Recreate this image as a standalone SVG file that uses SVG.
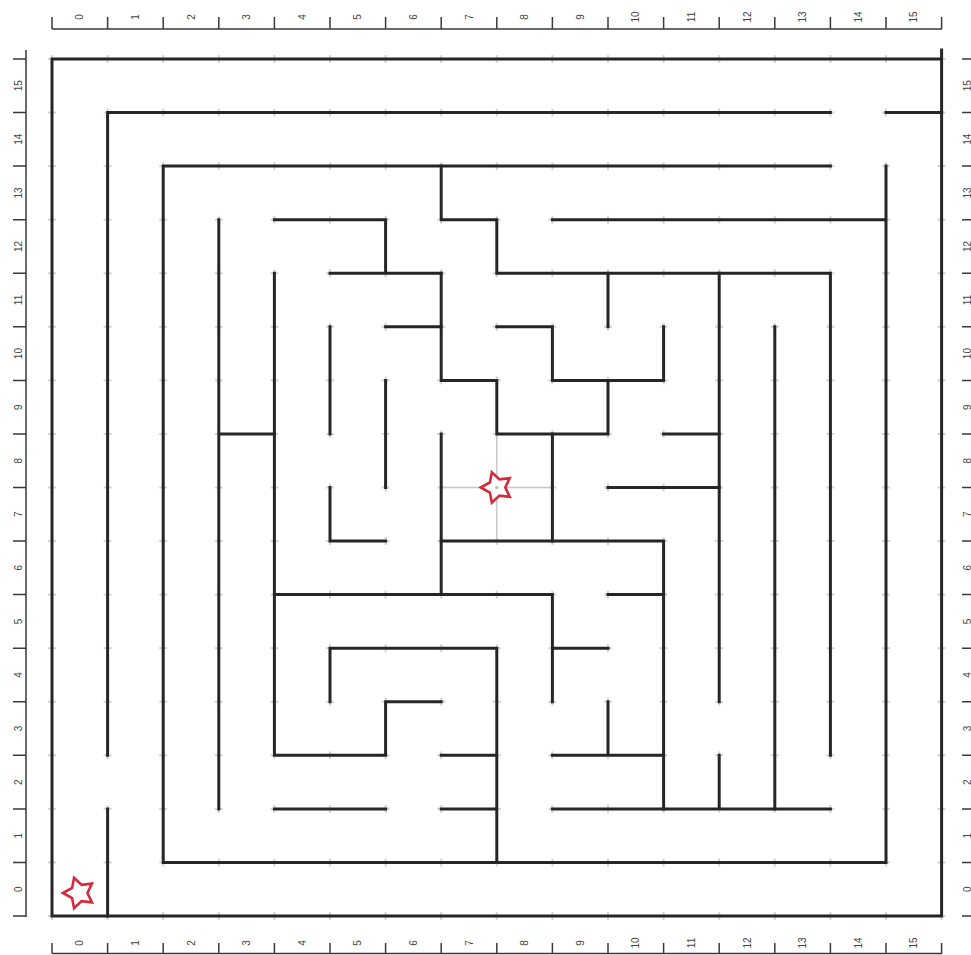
<svg xmlns="http://www.w3.org/2000/svg" width="971" height="955" viewBox="0 0 971 955">
<style>
.wall{fill:none;stroke:#262626;stroke-width:3;stroke-linecap:square;stroke-linejoin:miter}
.rule{fill:none;stroke:#3a3a3a;stroke-width:1.5}
.lbl{font-family:"Liberation Sans",Arial,sans-serif;font-size:10px;fill:#444;text-anchor:middle;dominant-baseline:central}
.star{fill:#fff;stroke:#d42a3c;stroke-width:2.6;stroke-linejoin:miter}
.cross{stroke:#c8c8c8;stroke-width:1.5;fill:none}
</style>
<defs>
<pattern id="tick" patternUnits="userSpaceOnUse" x="24.2" y="32.22" width="55.6" height="53.5625">
<path d="M23.8,26.78H31.8M27.8,22.78V30.78" stroke="#aaa" stroke-width="1" fill="none"/>
</pattern>
<path id="starShape" d="M-16,0L-6.9,-5L-4.94,-15.22L2.6,-8.1L12.94,-9.4L8.5,0L12.94,9.4L2.6,8.1L-4.94,15.22L-6.9,5Z"/>
</defs>
<rect width="971" height="955" fill="#fff"/>
<g id="grid-ticks">
<rect x="46" y="53" width="902" height="869" fill="url(#tick)"/>
</g>
<g id="ruler-top">
<path class="rule" d="M52,29H942M52,17V29M107.6,17V29M163.2,17V29M218.8,17V29M274.4,17V29M330,17V29M385.6,17V29M441.2,17V29M496.8,17V29M552.4,17V29M608,17V29M663.6,17V29M719.2,17V29M774.8,17V29M830.4,17V29M886,17V29M941.6,17V29"/>
<text class="lbl" transform="translate(79.8,17) rotate(-90)">0</text>
<text class="lbl" transform="translate(135.4,17) rotate(-90)">1</text>
<text class="lbl" transform="translate(191,17) rotate(-90)">2</text>
<text class="lbl" transform="translate(246.6,17) rotate(-90)">3</text>
<text class="lbl" transform="translate(302.2,17) rotate(-90)">4</text>
<text class="lbl" transform="translate(357.8,17) rotate(-90)">5</text>
<text class="lbl" transform="translate(413.4,17) rotate(-90)">6</text>
<text class="lbl" transform="translate(469,17) rotate(-90)">7</text>
<text class="lbl" transform="translate(524.6,17) rotate(-90)">8</text>
<text class="lbl" transform="translate(580.2,17) rotate(-90)">9</text>
<text class="lbl" transform="translate(635.8,17) rotate(-90)">10</text>
<text class="lbl" transform="translate(691.4,17) rotate(-90)">11</text>
<text class="lbl" transform="translate(747,17) rotate(-90)">12</text>
<text class="lbl" transform="translate(802.6,17) rotate(-90)">13</text>
<text class="lbl" transform="translate(858.2,17) rotate(-90)">14</text>
<text class="lbl" transform="translate(913.8,17) rotate(-90)">15</text>
</g>
<g id="ruler-bottom">
<path class="rule" d="M52,953.5H942M52,943V953.5M107.6,943V953.5M163.2,943V953.5M218.8,943V953.5M274.4,943V953.5M330,943V953.5M385.6,943V953.5M441.2,943V953.5M496.8,943V953.5M552.4,943V953.5M608,943V953.5M663.6,943V953.5M719.2,943V953.5M774.8,943V953.5M830.4,943V953.5M886,943V953.5M941.6,943V953.5"/>
<text class="lbl" transform="translate(79.8,943) rotate(-90)">0</text>
<text class="lbl" transform="translate(135.4,943) rotate(-90)">1</text>
<text class="lbl" transform="translate(191,943) rotate(-90)">2</text>
<text class="lbl" transform="translate(246.6,943) rotate(-90)">3</text>
<text class="lbl" transform="translate(302.2,943) rotate(-90)">4</text>
<text class="lbl" transform="translate(357.8,943) rotate(-90)">5</text>
<text class="lbl" transform="translate(413.4,943) rotate(-90)">6</text>
<text class="lbl" transform="translate(469,943) rotate(-90)">7</text>
<text class="lbl" transform="translate(524.6,943) rotate(-90)">8</text>
<text class="lbl" transform="translate(580.2,943) rotate(-90)">9</text>
<text class="lbl" transform="translate(635.8,943) rotate(-90)">10</text>
<text class="lbl" transform="translate(691.4,943) rotate(-90)">11</text>
<text class="lbl" transform="translate(747,943) rotate(-90)">12</text>
<text class="lbl" transform="translate(802.6,943) rotate(-90)">13</text>
<text class="lbl" transform="translate(858.2,943) rotate(-90)">14</text>
<text class="lbl" transform="translate(913.8,943) rotate(-90)">15</text>
</g>
<g id="ruler-left">
<path class="rule" d="M26,50V917M13,59H26M13,112.6H26M13,166.1H26M13,219.7H26M13,273.3H26M13,326.8H26M13,380.4H26M13,433.9H26M13,487.5H26M13,541.1H26M13,594.6H26M13,648.2H26M13,701.8H26M13,755.3H26M13,808.9H26M13,862.4H26M13,916H26"/>
<text class="lbl" transform="translate(18,889.2) rotate(-90)">0</text>
<text class="lbl" transform="translate(18,835.7) rotate(-90)">1</text>
<text class="lbl" transform="translate(18,782.1) rotate(-90)">2</text>
<text class="lbl" transform="translate(18,728.5) rotate(-90)">3</text>
<text class="lbl" transform="translate(18,675) rotate(-90)">4</text>
<text class="lbl" transform="translate(18,621.4) rotate(-90)">5</text>
<text class="lbl" transform="translate(18,567.8) rotate(-90)">6</text>
<text class="lbl" transform="translate(18,514.3) rotate(-90)">7</text>
<text class="lbl" transform="translate(18,460.7) rotate(-90)">8</text>
<text class="lbl" transform="translate(18,407.1) rotate(-90)">9</text>
<text class="lbl" transform="translate(18,353.6) rotate(-90)">10</text>
<text class="lbl" transform="translate(18,300) rotate(-90)">11</text>
<text class="lbl" transform="translate(18,246.5) rotate(-90)">12</text>
<text class="lbl" transform="translate(18,192.9) rotate(-90)">13</text>
<text class="lbl" transform="translate(18,139.3) rotate(-90)">14</text>
<text class="lbl" transform="translate(18,85.8) rotate(-90)">15</text>
</g>
<g id="ruler-right">
<path class="rule" d="M962,59H972M962,112.6H972M962,166.1H972M962,219.7H972M962,273.3H972M962,326.8H972M962,380.4H972M962,433.9H972M962,487.5H972M962,541.1H972M962,594.6H972M962,648.2H972M962,701.8H972M962,755.3H972M962,808.9H972M962,862.4H972M962,916H972"/>
<text class="lbl" transform="translate(967,889.2) rotate(-90)">0</text>
<text class="lbl" transform="translate(967,835.7) rotate(-90)">1</text>
<text class="lbl" transform="translate(967,782.1) rotate(-90)">2</text>
<text class="lbl" transform="translate(967,728.5) rotate(-90)">3</text>
<text class="lbl" transform="translate(967,675) rotate(-90)">4</text>
<text class="lbl" transform="translate(967,621.4) rotate(-90)">5</text>
<text class="lbl" transform="translate(967,567.8) rotate(-90)">6</text>
<text class="lbl" transform="translate(967,514.3) rotate(-90)">7</text>
<text class="lbl" transform="translate(967,460.7) rotate(-90)">8</text>
<text class="lbl" transform="translate(967,407.1) rotate(-90)">9</text>
<text class="lbl" transform="translate(967,353.6) rotate(-90)">10</text>
<text class="lbl" transform="translate(967,300) rotate(-90)">11</text>
<text class="lbl" transform="translate(967,246.5) rotate(-90)">12</text>
<text class="lbl" transform="translate(967,192.9) rotate(-90)">13</text>
<text class="lbl" transform="translate(967,139.3) rotate(-90)">14</text>
<text class="lbl" transform="translate(967,85.8) rotate(-90)">15</text>
</g>
<g id="goal-crosshair">
<path class="cross" d="M441.2,487.5H552.4M496.8,433.9V541.1"/>
</g>
<g id="walls">
<path class="wall" d="M52,59H941.6M52,59V916H941.6M941.6,50V916"/>
<path class="wall" d="M107.6,112.6H830.4M886,112.6H941.6M107.6,112.6V755.3M107.6,808.9V916"/>
<path class="wall" d="M163.2,166.1H830.4M163.2,166.1V862.4H886M886,166.1V862.4M552.4,219.7H886"/>
<path class="wall" d="M441.2,166.1V219.7H496.8V273.3H830.4V755.3"/>
<path class="wall" d="M608,273.3V326.8M719.2,273.3V701.8M774.8,326.8V808.9"/>
<path class="wall" d="M496.8,326.8H552.4V380.4H663.6V326.8"/>
<path class="wall" d="M441.2,273.3V380.4H496.8V433.9H608V380.4"/>
<path class="wall" d="M663.6,433.9H719.2M608,487.5H719.2M552.4,433.9V541.1M441.2,433.9V594.6"/>
<path class="wall" d="M441.2,541.1H663.6V808.9"/>
<path class="wall" d="M274.4,594.6H552.4V701.8M552.4,648.2H608M608,594.6H663.6M608,701.8V755.3M552.4,755.3H663.6M552.4,808.9H830.4M719.2,755.3V808.9"/>
<path class="wall" d="M218.8,219.7V808.9M218.8,433.9H274.4"/>
<path class="wall" d="M274.4,219.7H385.6V273.3M330,273.3H441.2"/>
<path class="wall" d="M274.4,273.3V755.3H385.6V701.8H441.2"/>
<path class="wall" d="M385.6,326.8H441.2M330,326.8V433.9M385.6,380.4V487.5M330,487.5V541.1H385.6"/>
<path class="wall" d="M330,701.8V648.2H496.8V862.4M441.2,755.3H496.8M441.2,808.9H496.8M274.4,808.9H385.6"/>
</g>
<g id="start-star">
<use href="#starShape" class="star" transform="translate(79,893)"/>
</g>
<g id="goal-star">
<use href="#starShape" class="star" transform="translate(496.8,487.5)"/>
<circle cx="496.8" cy="487.5" r="1.6" fill="#9cc99c"/>
</g>
</svg>
